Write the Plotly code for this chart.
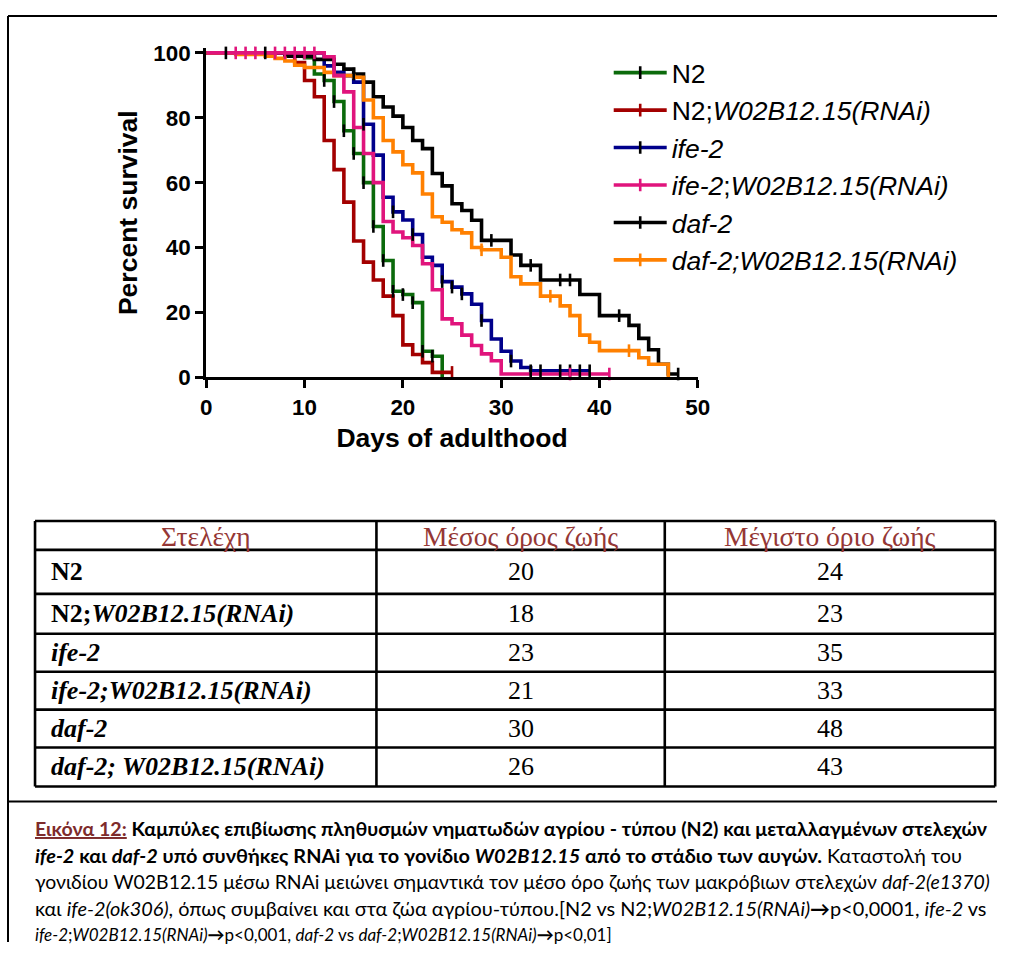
import plotly.graph_objects as go

W, H = 1009, 955

# ---------------- data ----------------
N2_days = [0, 10, 11, 12, 13, 14, 15, 16, 17, 18, 19, 20, 21, 22, 23, 24]
N2_surv = [100, 98.5, 93.5, 91.5, 85, 76, 69, 60, 46.5, 36, 26.5, 25.5, 23, 8, 6.5, 0]
N2_cens = [12, 13, 14, 15, 16, 17, 18, 19, 20, 21, 22, 23]

N2R_days = [0, 9, 10, 11, 12, 13, 14, 15, 16, 17, 18, 19, 20, 21, 22, 23, 25]
N2R_surv = [100, 97, 91.5, 86.5, 73, 64, 54, 42, 35.5, 30, 25, 19, 10, 7, 4.5, 1.5, 1.5]
N2R_cens = [25]

IFE_days = [0, 12, 13, 14, 15, 16, 17, 18, 19, 20, 21, 22, 23, 24, 25, 26, 27, 28, 29, 30, 31, 32, 33, 39]
IFE_surv = [100, 96, 94, 93, 91, 78, 68.5, 55.5, 51, 48.5, 44, 37, 34.5, 29.5, 27.8, 25.7, 22.5, 17.5, 11.8, 8, 5, 3, 2, 2]
IFE_cens = [16, 19, 21, 24, 25, 26, 28, 31, 33, 34, 36, 37, 38, 39]

IFER_days = [0, 12, 13, 14, 15, 16, 17, 18, 19, 20, 21, 22, 23, 24, 25, 26, 27, 28, 29, 30, 41]
IFER_surv = [100, 98.8, 93, 88, 77, 69, 60, 48, 44.8, 43, 40.6, 35, 27, 18, 16.5, 13, 9.8, 7.2, 5.1, 1, 1]
IFER_cens = [3, 4, 5, 7, 8, 9, 10, 11, 37, 41]

DAF_days = [0, 8, 11, 13, 14, 15, 16, 17, 18, 19, 20, 21, 22, 23, 24, 25, 26, 27, 28, 31, 32, 34, 38, 40, 43, 44, 45, 46, 47, 48]
DAF_surv = [100, 99, 98, 96.5, 95, 93.5, 91, 86.5, 83.3, 80.5, 77, 73, 70.5, 62.8, 59, 53.5, 51.4, 48.4, 42.2, 37.7, 34.5, 30, 25.5, 19, 16, 12, 8.5, 4, 1, 1]
DAF_cens = [2, 6, 15, 29, 33, 36, 37, 42, 48]

DAFR_days = [0, 3, 6, 7, 8, 9, 10, 12, 13, 15, 16, 17, 18, 19, 20, 21, 22, 23, 24, 25, 26, 27, 28, 30, 31, 32, 34, 36, 37, 38, 39, 40, 44, 45, 47]
DAFR_surv = [100, 99.5, 99, 98.3, 97.5, 96.2, 95.5, 94, 93, 92.5, 85.5, 80, 73, 69.5, 65.5, 63, 56.5, 49.5, 47.8, 45.5, 44.5, 40, 39.3, 37, 31, 28.8, 25, 22, 19, 13, 10.8, 8.2, 6, 4, 0]
DAFR_cens = [28, 35, 43]

series_labels = ["N2", "N2;<i>W02B12.15(RNAi)</i>", "<i>ife-2</i>",
                 "<i>ife-2</i>;<i>W02B12.15(RNAi)</i>", "<i>daf-2</i>",
                 "<i>daf-2;W02B12.15(RNAi)</i>"]

x_ticks = [0, 10, 20, 30, 40, 50]
y_ticks = [0, 20, 40, 60, 80, 100]

table_header = ["Στελέχη", "Μέσος όρος ζωής", "Μέγιστο όριο ζωής"]
table_strains = ["<b>N2</b>", "<b>N2;<i>W02B12.15(RNAi)</i></b>", "<b><i>ife-2</i></b>",
                 "<b><i>ife-2;W02B12.15(RNAi)</i></b>", "<b><i>daf-2</i></b>",
                 "<b><i>daf-2; W02B12.15(RNAi)</i></b>"]
mean_lifespan = [20, 18, 23, 21, 30, 26]
max_lifespan = [24, 23, 35, 33, 48, 43]

caption_lines = [
    "<b><span style='color:#7e2b2b'><u>Εικόνα 12:</u></span> Καμπύλες επιβίωσης πληθυσμών νηματωδών αγρίου - τύπου (N2) και μεταλλαγμένων στελεχών</b>",
    "<b><i>ife-2</i> και <i>daf-2</i> υπό συνθήκες RNAi για το γονίδιο <i>W02B12.15</i> από το στάδιο των αυγών.</b> Καταστολή του",
    "γονιδίου W02B12.15 μέσω RNAi μειώνει σημαντικά τον μέσο όρο ζωής των μακρόβιων στελεχών <i>daf-2(e1370)</i>",
    "και <i>ife-2(ok306)</i>, όπως συμβαίνει και στα ζώα αγρίου-τύπου.[N2 vs N2;<i>W02B12.15(RNAi)</i><b>→</b>p&lt;0,0001, <i>ife-2</i> vs",
    "<i>ife-2</i>;<i>W02B12.15(RNAi)</i><b>→</b>p&lt;0,001, <i>daf-2</i> vs <i>daf-2</i>;<i>W02B12.15(RNAi)</i><b>→</b>p&lt;0,01]",
]

# ---------------- styling ----------------
GREEN, RED, BLUE, PINK, BLACK, ORANGE = "#0b6a0b", "#a30000", "#00008b", "#e0147c", "#000000", "#ff8000"

series = [
    (0, N2_days, N2_surv, N2_cens, GREEN, BLACK),
    (1, N2R_days, N2R_surv, N2R_cens, RED, RED),
    (2, IFE_days, IFE_surv, IFE_cens, BLUE, BLACK),
    (4, DAF_days, DAF_surv, DAF_cens, BLACK, BLACK),
    (5, DAFR_days, DAFR_surv, DAFR_cens, ORANGE, ORANGE),
    (3, IFER_days, IFER_surv, IFER_cens, PINK, PINK),
]

# layout positions are given in target-picture pixels and mapped to paper fractions
S, A = 0.981, 6.0
FS = 1 / S


def fx(px):
    return min(((px - A) / S) / W, 1.0)


def fy(py):
    return 1 - ((py - A) / S) / H


def surv_at(days, surv, t):
    v = surv[0]
    for d, s in zip(days, surv):
        if d <= t:
            v = s
        else:
            break
    return v


fig = go.Figure()
LW = 3.6
for idx, d, s, c, col, tcol in series:
    fig.add_trace(go.Scatter(x=d, y=s, mode="lines", line=dict(color=col, width=LW, shape="hv"),
                             showlegend=False, legendgroup=str(idx), hoverinfo="skip"))
for idx, d, s, c, col, tcol in series:
    fig.add_trace(go.Scatter(x=c, y=[surv_at(d, s, t) for t in c], mode="markers",
                             marker=dict(symbol="line-ns", size=9, color=tcol, line=dict(width=2.6, color=tcol)),
                             cliponaxis=False, showlegend=False, legendgroup=str(idx), hoverinfo="skip"))
for idx, d, s, c, col, tcol in series:
    fig.add_trace(go.Scatter(x=[None], y=[None], mode="lines+markers", name=series_labels[idx],
                             line=dict(color=col, width=LW),
                             marker=dict(symbol="line-ns", size=9, color=tcol, line=dict(width=2.6, color=tcol)),
                             legendgroup=str(idx), legendrank=idx + 1, showlegend=True))

axis_font = dict(family="Liberation Sans, Arial", size=22 * FS, color="black", weight="bold")
title_font = dict(family="Liberation Sans, Arial", size=26 * FS, color="black", weight="bold")

Y_TOP = 101.5
y_top_px = 52 - (Y_TOP - 100) * 3.25

fig.update_layout(
    width=W, height=H,
    margin=dict(l=0, r=0, t=0, b=0),
    paper_bgcolor="white", plot_bgcolor="white",
    xaxis=dict(domain=[fx(206), fx(697)], range=[0, 50], tickvals=x_ticks, ticks="outside",
               ticklen=8, tickwidth=3, tickcolor="black", showline=True, linewidth=3,
               linecolor="black", showgrid=False, zeroline=False, tickfont=axis_font,
               title=dict(text="Days of adulthood", font=title_font, standoff=10), anchor="y"),
    yaxis=dict(domain=[fy(377), fy(y_top_px)], range=[0, Y_TOP], tickvals=y_ticks, ticks="outside",
               ticklen=8, tickwidth=3, tickcolor="black", showline=True, linewidth=3,
               linecolor="black", showgrid=False, zeroline=False, tickfont=axis_font,
               title=dict(text="Percent survival", font=title_font, standoff=9), anchor="x"),
    legend=dict(x=fx(608), y=fy(48), xanchor="left", yanchor="top", itemwidth=53,
                font=dict(family="Liberation Sans, Arial", size=26 * FS, color="black"),
                tracegroupgap=4.5, bgcolor="rgba(0,0,0,0)", traceorder="normal"),
    font=dict(family="Liberation Sans, Arial"),
)

# ---------------- table (grid + cell texts) ----------------
col_edges = [35, 376, 664, 994]
row_edges = [521, 550, 594, 634, 672, 710, 748, 787]
grid = dict(type="line", xref="paper", yref="paper", line=dict(color="black", width=2.6))
for xe in col_edges:
    fig.add_shape(**grid, x0=fx(xe), x1=fx(xe), y0=fy(row_edges[0]), y1=fy(row_edges[-1]))
for ye in row_edges:
    fig.add_shape(**grid, x0=fx(col_edges[0]), x1=fx(col_edges[-1]), y0=fy(ye), y1=fy(ye))

for j, htxt in enumerate(table_header):
    cx = (col_edges[j] + col_edges[j + 1]) / 2
    cy = (row_edges[0] + row_edges[1]) / 2 + 1
    fig.add_annotation(text=htxt, xref="paper", yref="paper", x=fx(cx), y=fy(cy),
                       xanchor="center", yanchor="middle", showarrow=False,
                       font=dict(family="Liberation Serif", size=27 * FS, color="#953735"))
for i in range(len(table_strains)):
    cy = (row_edges[i + 1] + row_edges[i + 2]) / 2
    fig.add_annotation(text=table_strains[i], xref="paper", yref="paper", x=fx(49), y=fy(cy),
                       xanchor="left", yanchor="middle", showarrow=False,
                       font=dict(family="Liberation Serif", size=25.5 * FS, color="black"))
    for j, vals in ((1, mean_lifespan), (2, max_lifespan)):
        cx = (col_edges[j] + col_edges[j + 1]) / 2
        fig.add_annotation(text=str(vals[i]), xref="paper", yref="paper", x=fx(cx), y=fy(cy),
                           xanchor="center", yanchor="middle", showarrow=False,
                           font=dict(family="Liberation Serif", size=25.5 * FS, color="black"))

# ---------------- outer frame and caption ----------------
frame = dict(type="line", xref="paper", yref="paper", line=dict(color="black", width=2))
fig.add_shape(**frame, x0=fx(8), x1=1, y0=fy(15), y1=fy(15))
fig.add_shape(**frame, x0=fx(8), x1=fx(8), y0=fy(15), y1=0)
fig.add_shape(**frame, x0=fx(8), x1=1, y0=fy(802), y1=fy(802))

cap_y = [829, 855.5, 882, 908.5, 935]
cap_size = [19.6, 19.9, 19.4, 19.9, 17]
for txt, yy, fs in zip(caption_lines, cap_y, cap_size):
    fig.add_annotation(text=txt, xref="paper", yref="paper", x=fx(33), y=fy(yy), xanchor="left",
                       yanchor="middle", showarrow=False,
                       font=dict(family="Lato", size=fs, color="black"))

fig.write_html("out.html", config={"displayModeBar": False},
               post_script="document.body.style.margin='0';document.body.style.overflow='hidden';")
